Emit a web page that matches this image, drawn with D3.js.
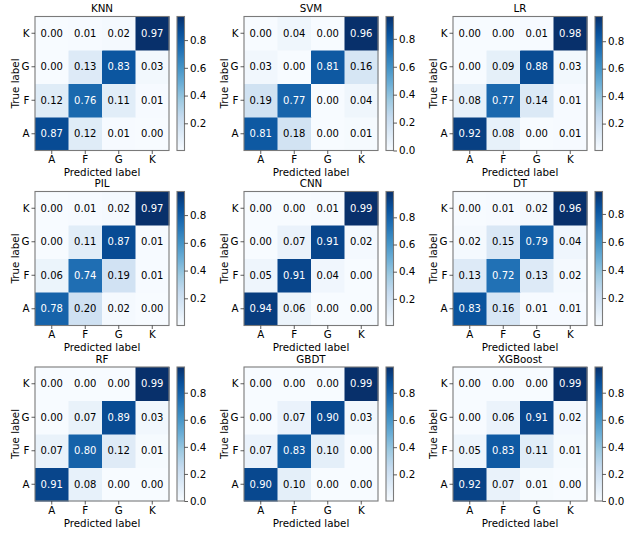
<!DOCTYPE html>
<html>
<head>
<meta charset="utf-8">
<script src="https://cdn.jsdelivr.net/npm/d3@7"></script>
<style>
  html, body { margin: 0; padding: 0; background: #fff; }
  svg { display: block; font-family: "DejaVu Sans", sans-serif; }
</style>
</head>
<body>
<svg id="chart" width="632" height="534"></svg>
<script>
// ---- data ----
const classes = ["A", "F", "G", "K"];
const models = ["KNN", "SVM", "LR", "PIL", "CNN", "DT", "RF", "GBDT", "XGBoost"];
// rows = true label (A, F, G, K), columns = predicted label (A, F, G, K)
const KNN = [[0.87,0.12,0.01,0.00],[0.12,0.76,0.11,0.01],[0.00,0.13,0.83,0.03],[0.00,0.01,0.02,0.97]];
const SVM = [[0.81,0.18,0.00,0.01],[0.19,0.77,0.00,0.04],[0.03,0.00,0.81,0.16],[0.00,0.04,0.00,0.96]];
const LR  = [[0.92,0.08,0.00,0.01],[0.08,0.77,0.14,0.01],[0.00,0.09,0.88,0.03],[0.00,0.00,0.01,0.98]];
const PIL = [[0.78,0.20,0.02,0.00],[0.06,0.74,0.19,0.01],[0.00,0.11,0.87,0.01],[0.00,0.01,0.02,0.97]];
const CNN = [[0.94,0.06,0.00,0.00],[0.05,0.91,0.04,0.00],[0.00,0.07,0.91,0.02],[0.00,0.00,0.01,0.99]];
const DT  = [[0.83,0.16,0.01,0.01],[0.13,0.72,0.13,0.02],[0.02,0.15,0.79,0.04],[0.00,0.01,0.02,0.96]];
const RF  = [[0.91,0.08,0.00,0.00],[0.07,0.80,0.12,0.01],[0.00,0.07,0.89,0.03],[0.00,0.00,0.00,0.99]];
const GBDT= [[0.90,0.10,0.00,0.00],[0.07,0.83,0.10,0.00],[0.00,0.07,0.90,0.03],[0.00,0.00,0.00,0.99]];
const XGBoost = [[0.92,0.07,0.01,0.00],[0.05,0.83,0.11,0.01],[0.00,0.06,0.91,0.02],[0.00,0.00,0.00,0.99]];
const matrices = [KNN, SVM, LR, PIL, CNN, DT, RF, GBDT, XGBoost];
// colour-bar lower limits (unrounded minimum of each matrix, estimated)
const vmins = [0.004, 0.0, 0.004, 0.004, 0.004, 0.004, 0.0, 0.004, 0.0];
const cbarTicks = [0.0, 0.2, 0.4, 0.6, 0.8];

// ---- layout ----
const colLeft = [35, 244, 453];
const rowTop = [16.5, 191.5, 367];
const size = 134;
const cbGap = 142, cbW = 7.5;
const blues = ["#f7fbff","#deebf7","#c6dbef","#9ecae1","#6baed6","#4292c6","#2171b5","#08519c","#08306b"];
const frame = "#7a7a7a";
const labelFs = 10.3, cellFs = 10;

const svg = d3.select("#chart");
const defs = svg.append("defs");

models.forEach((name, k) => {
  const m = matrices[k];
  const vmin = vmins[k];
  const vmax = d3.max(m.flat());
  const x0 = colLeft[k % 3], y0 = rowTop[Math.floor(k / 3)];
  const g = svg.append("g").attr("transform", `translate(${x0},${y0})`);

  const x = d3.scaleBand().domain(classes).range([0, size]);
  const y = d3.scaleBand().domain(classes.slice().reverse()).range([0, size]);
  const t = d3.scaleLinear().domain([vmin, vmax]).range([0, 1]).clamp(true);
  const cmap = d3.scaleLinear().domain(d3.range(9).map(i => i / 8)).range(blues).interpolate(d3.interpolateRgb);
  const color = v => cmap(t(v));
  const thresh = (vmax + vmin) / 2;

  const cells = [];
  m.forEach((row, i) => row.forEach((v, j) => cells.push({ tl: classes[i], pl: classes[j], v })));

  g.selectAll("rect.cell").data(cells).join("rect")
    .attr("class", "cell")
    .attr("x", d => x(d.pl)).attr("y", d => y(d.tl))
    .attr("width", x.bandwidth() + 0.5).attr("height", y.bandwidth() + 0.5)
    .attr("fill", d => color(d.v));

  g.selectAll("text.val").data(cells).join("text")
    .attr("class", "val")
    .attr("x", d => x(d.pl) + x.bandwidth() / 2)
    .attr("y", d => y(d.tl) + y.bandwidth() / 2 + 3.7)
    .attr("text-anchor", "middle")
    .attr("font-size", cellFs)
    .attr("fill", d => d.v > thresh ? "#fff" : "#000")
    .text(d => d.v.toFixed(2));

  g.append("rect").attr("x", 0).attr("y", 0).attr("width", size).attr("height", size)
    .attr("fill", "none").attr("stroke", frame).attr("stroke-width", 1.1);

  // axes
  const xa = g.append("g").attr("transform", `translate(0,${size})`)
    .call(d3.axisBottom(x).tickSize(3.5).tickPadding(2));
  const ya = g.append("g").call(d3.axisLeft(y).tickSize(3.5).tickPadding(2));
  [xa, ya].forEach(a => {
    a.select(".domain").remove();
    a.selectAll("line").attr("stroke", "#333").attr("stroke-width", 0.8);
    a.selectAll("text").attr("font-size", labelFs).attr("fill", "#000")
      .attr("font-family", "DejaVu Sans, sans-serif");
  });

  g.append("text").attr("x", size / 2).attr("y", -4.5)
    .attr("text-anchor", "middle").attr("font-size", labelFs).text(name);
  g.append("text").attr("x", size / 2).attr("y", size + 25.5)
    .attr("text-anchor", "middle").attr("font-size", labelFs).text("Predicted label");
  g.append("text").attr("transform", `translate(-16.5,${size / 2}) rotate(-90)`)
    .attr("text-anchor", "middle").attr("font-size", labelFs).text("True label");

  // colour bar
  const gid = "grad" + k;
  const grad = defs.append("linearGradient").attr("id", gid)
    .attr("x1", 0).attr("y1", 1).attr("x2", 0).attr("y2", 0);
  d3.range(0, 1.0001, 1 / 32).forEach(p => {
    grad.append("stop").attr("offset", p).attr("stop-color", cmap(p));
  });
  const cb = g.append("g").attr("transform", `translate(${cbGap},0)`);
  const cy = d3.scaleLinear().domain([vmin, vmax]).range([size, 0]);
  cb.append("rect").attr("width", cbW).attr("height", size).attr("fill", `url(#${gid})`);
  cb.append("rect").attr("width", cbW).attr("height", size)
    .attr("fill", "none").attr("stroke", frame).attr("stroke-width", 1.1);
  const ticks = cbarTicks.filter(v => v >= vmin - 1e-9 && v <= vmax);
  const ca = cb.append("g").attr("transform", `translate(${cbW},0)`)
    .call(d3.axisRight(cy).tickValues(ticks).tickFormat(d3.format(".1f")).tickSize(3.5).tickPadding(2));
  ca.select(".domain").remove();
  ca.selectAll("line").attr("stroke", "#333").attr("stroke-width", 0.8);
  ca.selectAll("text").attr("font-size", labelFs).attr("fill", "#000")
    .attr("font-family", "DejaVu Sans, sans-serif");
});
</script>
</body>
</html>
